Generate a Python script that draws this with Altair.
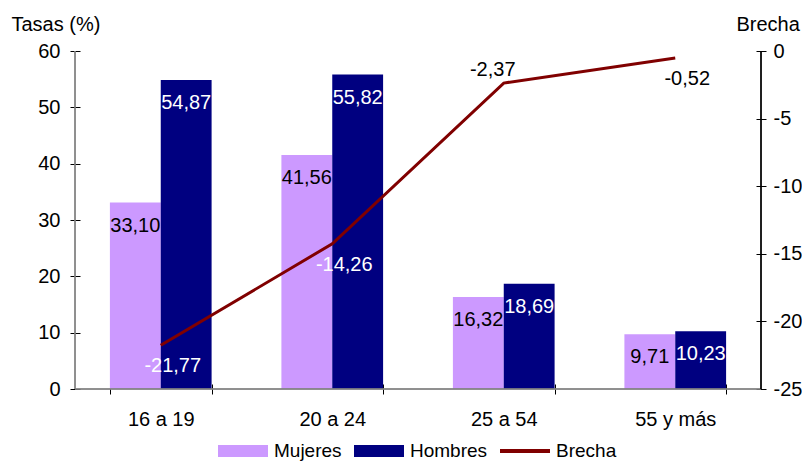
import altair as alt
import pandas as pd

categorias = ["16 a 19", "20 a 24", "25 a 54", "55 y más"]
mujeres = [33.10, 41.56, 16.32, 9.71]
hombres = [54.87, 55.82, 18.69, 10.23]
brecha = [-21.77, -14.26, -2.37, -0.52]
series = ["Mujeres", "Hombres", "Brecha"]
colores = ["#CC99FF", "#000080", "#800000"]
ticks_tasas = [0, 10, 20, 30, 40, 50, 60]
ticks_brecha = [0, -5, -10, -15, -20, -25]

W, H = 686, 338
FONT = "Liberation Sans"
FS = 20

bars_df = pd.DataFrame({
    "cat": categorias * 2,
    "serie": ["Mujeres"] * 4 + ["Hombres"] * 4,
    "valor": mujeres + hombres,
})
bars_df["col"] = bars_df["serie"].map({"Mujeres": colores[0], "Hombres": colores[1]})
line_df = pd.DataFrame({"cat": categorias, "brecha": brecha})
leg_df = pd.DataFrame({"serie": series})

x_enc = alt.X(
    "cat:N", sort=categorias, title=None,
    scale=alt.Scale(paddingInner=0.407, paddingOuter=0.2035),
    axis=alt.Axis(domain=False, tickBand="extent", tickSize=10, offset=-5,
                  tickColor="#000000", labelFontSize=FS, labelPadding=15,
                  labelAngle=0, labelColor="#000000", grid=False),
)
xoff = alt.XOffset("serie:N", sort=["Mujeres", "Hombres"],
                   scale=alt.Scale(paddingInner=0, paddingOuter=0))
y_left = alt.Y(
    "valor:Q", title="Tasas (%)",
    scale=alt.Scale(domain=[0, 60], nice=False),
    axis=alt.Axis(values=ticks_tasas, domain=False, tickSize=10, offset=-5,
                  tickColor="#000000", labelFontSize=FS, labelPadding=10,
                  labelColor="#000000", grid=False,
                  titleAngle=0, titleAlign="left", titleBaseline="alphabetic",
                  titleX=-69, titleY=-21, titleFontSize=FS,
                  titleFontWeight="normal", titleColor="#000000"),
)
y_right = alt.Y(
    "brecha:Q", title="Brecha",
    scale=alt.Scale(domain=[-25, 0], nice=False),
    axis=alt.Axis(orient="right", values=ticks_brecha, domain=False, tickSize=10,
                  offset=-5, tickColor="#000000", labelFontSize=FS, labelPadding=7,
                  labelColor="#000000", grid=False,
                  titleAngle=0, titleAlign="left", titleBaseline="alphabetic",
                  titleX=-20, titleY=-21, titleFontSize=FS,
                  titleFontWeight="normal", titleColor="#000000"),
)

bars = alt.Chart(bars_df).mark_bar().encode(
    x=x_enc, xOffset=xoff, y=y_left,
    fill=alt.Fill("col:N", scale=None),
)
lab_m = alt.Chart(bars_df).transform_filter(alt.datum.serie == "Mujeres").mark_text(
    baseline="alphabetic", dy=29, fontSize=FS, color="#000000"
).encode(x=x_enc, xOffset=xoff, y=y_left, text=alt.Text("valor:Q", format=".2f"))
lab_h = alt.Chart(bars_df).transform_filter(alt.datum.serie == "Hombres").mark_text(
    baseline="alphabetic", dy=29, fontSize=FS, color="#FFFFFF"
).encode(x=x_enc, xOffset=xoff, y=y_left, text=alt.Text("valor:Q", format=".2f"))

dom_left = alt.Chart(leg_df).mark_rule(color="#808080", strokeWidth=1).encode(
    x=alt.value(0), y=alt.value(0), y2=alt.value(H))
dom_bottom = alt.Chart(leg_df).mark_rule(color="#808080", strokeWidth=1).encode(
    x=alt.value(0), x2=alt.value(W), y=alt.value(H))
dom_right = alt.Chart(leg_df).mark_rule(color="#000000", strokeWidth=1).encode(
    x=alt.value(W), y=alt.value(0), y2=alt.value(H))

rect_path = "M-1,-0.24H1V0.24H-1Z"
line_path = "M-1,-0.08H1V0.08H-1Z"
leg_props = dict(orient="none", legendX=143, legendY=375,
                 direction="horizontal", title=None,
                 symbolSize=2500, symbolStrokeWidth=0,
                 symbolOpacity=1, labelFontSize=19,
                 labelOffset=6, columnPadding=12,
                 labelColor="#000000")
legend_layer = alt.Chart(leg_df).transform_filter("false").mark_point(
    filled=True, opacity=1
).encode(
    color=alt.Color("serie:N", scale=alt.Scale(domain=series, range=colores),
                    legend=alt.Legend(**leg_props)),
    shape=alt.Shape("serie:N", scale=alt.Scale(domain=series,
                    range=[rect_path, rect_path, line_path]),
                    legend=alt.Legend(**leg_props)),
)

left = alt.layer(bars, lab_m, lab_h, dom_left, dom_bottom, dom_right, legend_layer)

line = alt.Chart(line_df).mark_line(color="#800000", strokeWidth=3).encode(
    x=x_enc, y=y_right)
lab_b_below = alt.Chart(line_df).transform_filter(alt.datum.cat != "25 a 54").mark_text(
    baseline="alphabetic", dy=27, dx=12, fontSize=FS
).encode(
    x=x_enc, y=y_right, text=alt.Text("brecha:Q", format=".2f"),
    color=alt.condition(alt.datum.brecha < -10, alt.value("#FFFFFF"), alt.value("#000000")),
)
lab_b_above = alt.Chart(line_df).transform_filter(alt.datum.cat == "25 a 54").mark_text(
    baseline="alphabetic", dy=-7, dx=-11, fontSize=FS, color="#000000"
).encode(x=x_enc, y=y_right, text=alt.Text("brecha:Q", format=".2f"))

right = alt.layer(line, lab_b_below, lab_b_above)

chart = alt.layer(left, right).resolve_scale(y="independent").properties(
    width=W, height=H,
    autosize=alt.AutoSizeParams(type="none"),
    padding={"left": 67, "top": 43, "right": 41, "bottom": 75},
).configure(
    font=FONT,
    locale={"number": {"decimal": ",", "thousands": ".", "grouping": [3],
                       "currency": ["", " €"], "minus": "-"}},
).configure_view(stroke=None)

chart.save("out.html", embed_options={"renderer": "svg", "actions": False})
